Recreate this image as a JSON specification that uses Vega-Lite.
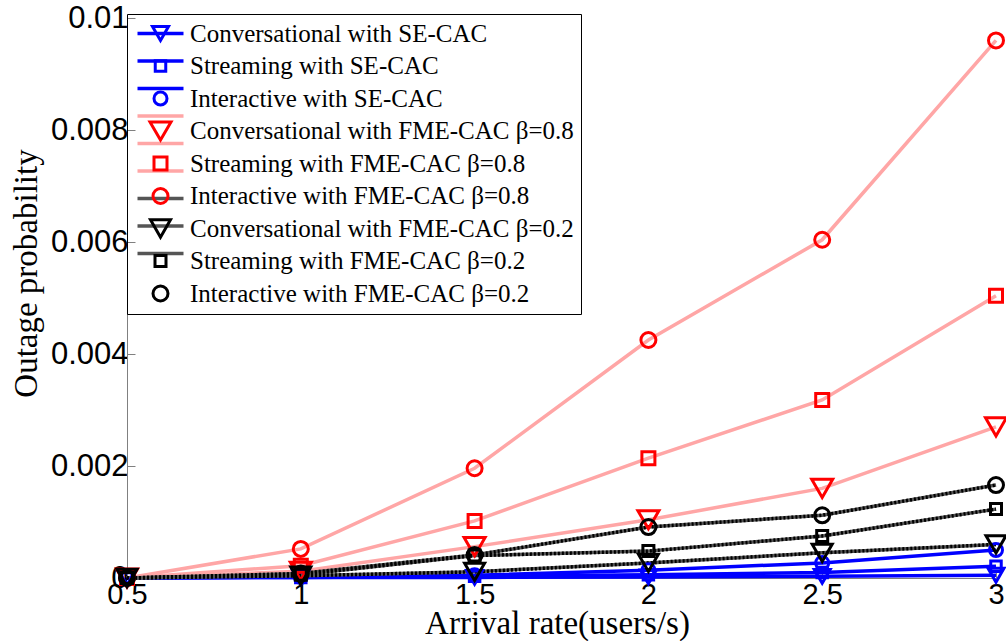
{
  "$schema": "https://vega.github.io/schema/vega-lite/v6.json",
  "width": 869,
  "height": 560,
  "autosize": {"type": "none"},
  "padding": {"left": 127, "top": 18, "right": 10, "bottom": 63},
  "background": "white",
  "config": {"view": {"stroke": null}},
  "data": {"values": [
    {"series": "Conversational with SE-CAC", "x": 0.5, "y": 0},
    {"series": "Conversational with SE-CAC", "x": 1, "y": 0.00001},
    {"series": "Conversational with SE-CAC", "x": 1.5, "y": 0.00001},
    {"series": "Conversational with SE-CAC", "x": 2, "y": 0.00002},
    {"series": "Conversational with SE-CAC", "x": 2.5, "y": 0.00003},
    {"series": "Conversational with SE-CAC", "x": 3, "y": 0.00005},
    {"series": "Streaming with SE-CAC", "x": 0.5, "y": 0},
    {"series": "Streaming with SE-CAC", "x": 1, "y": 0.00001},
    {"series": "Streaming with SE-CAC", "x": 1.5, "y": 0.00003},
    {"series": "Streaming with SE-CAC", "x": 2, "y": 0.00006},
    {"series": "Streaming with SE-CAC", "x": 2.5, "y": 0.0001},
    {"series": "Streaming with SE-CAC", "x": 3, "y": 0.00021},
    {"series": "Interactive with SE-CAC", "x": 0.5, "y": 0},
    {"series": "Interactive with SE-CAC", "x": 1, "y": 0.00002},
    {"series": "Interactive with SE-CAC", "x": 1.5, "y": 0.00005},
    {"series": "Interactive with SE-CAC", "x": 2, "y": 0.00014},
    {"series": "Interactive with SE-CAC", "x": 2.5, "y": 0.00027},
    {"series": "Interactive with SE-CAC", "x": 3, "y": 0.0005},
    {"series": "Conversational with FME-CAC β=0.8", "x": 0.5, "y": 0},
    {"series": "Conversational with FME-CAC β=0.8", "x": 1, "y": 0.00012},
    {"series": "Conversational with FME-CAC β=0.8", "x": 1.5, "y": 0.00056},
    {"series": "Conversational with FME-CAC β=0.8", "x": 2, "y": 0.00104},
    {"series": "Conversational with FME-CAC β=0.8", "x": 2.5, "y": 0.0016},
    {"series": "Conversational with FME-CAC β=0.8", "x": 3, "y": 0.0027},
    {"series": "Streaming with FME-CAC β=0.8", "x": 0.5, "y": 0},
    {"series": "Streaming with FME-CAC β=0.8", "x": 1, "y": 0.00022},
    {"series": "Streaming with FME-CAC β=0.8", "x": 1.5, "y": 0.00102},
    {"series": "Streaming with FME-CAC β=0.8", "x": 2, "y": 0.00214},
    {"series": "Streaming with FME-CAC β=0.8", "x": 2.5, "y": 0.00318},
    {"series": "Streaming with FME-CAC β=0.8", "x": 3, "y": 0.00504},
    {"series": "Interactive with FME-CAC β=0.8", "x": 0.5, "y": 0},
    {"series": "Interactive with FME-CAC β=0.8", "x": 1, "y": 0.00052},
    {"series": "Interactive with FME-CAC β=0.8", "x": 1.5, "y": 0.00196},
    {"series": "Interactive with FME-CAC β=0.8", "x": 2, "y": 0.00425},
    {"series": "Interactive with FME-CAC β=0.8", "x": 2.5, "y": 0.00604},
    {"series": "Interactive with FME-CAC β=0.8", "x": 3, "y": 0.0096},
    {"series": "Conversational with FME-CAC β=0.2", "x": 0.5, "y": 0},
    {"series": "Conversational with FME-CAC β=0.2", "x": 1, "y": 0.00004},
    {"series": "Conversational with FME-CAC β=0.2", "x": 1.5, "y": 0.00011},
    {"series": "Conversational with FME-CAC β=0.2", "x": 2, "y": 0.00027},
    {"series": "Conversational with FME-CAC β=0.2", "x": 2.5, "y": 0.00045},
    {"series": "Conversational with FME-CAC β=0.2", "x": 3, "y": 0.0006},
    {"series": "Streaming with FME-CAC β=0.2", "x": 0.5, "y": 0},
    {"series": "Streaming with FME-CAC β=0.2", "x": 1, "y": 0.00006},
    {"series": "Streaming with FME-CAC β=0.2", "x": 1.5, "y": 0.0004},
    {"series": "Streaming with FME-CAC β=0.2", "x": 2, "y": 0.00048},
    {"series": "Streaming with FME-CAC β=0.2", "x": 2.5, "y": 0.00075},
    {"series": "Streaming with FME-CAC β=0.2", "x": 3, "y": 0.00123},
    {"series": "Interactive with FME-CAC β=0.2", "x": 0.5, "y": 0},
    {"series": "Interactive with FME-CAC β=0.2", "x": 1, "y": 0.00008},
    {"series": "Interactive with FME-CAC β=0.2", "x": 1.5, "y": 0.00041},
    {"series": "Interactive with FME-CAC β=0.2", "x": 2, "y": 0.00091},
    {"series": "Interactive with FME-CAC β=0.2", "x": 2.5, "y": 0.00112},
    {"series": "Interactive with FME-CAC β=0.2", "x": 3, "y": 0.00166}
  ]},
  "encoding": {
    "x": {"field": "x", "type": "quantitative",
      "scale": {"domain": [0.5, 3], "nice": false, "zero": false},
      "axis": {"values": [0.5, 1, 1.5, 2, 2.5, 3], "format": "~g", "title": "Arrival rate(users/s)",
        "grid": false, "labelFont": "Liberation Sans", "labelFontSize": 29, "labelColor": "black",
        "labelPadding": 10, "tickSize": -8, "tickColor": "#808080", "domainColor": "#808080",
        "labelFlush": false, "labelOverlap": false,
        "titleFont": "Liberation Serif", "titleFontSize": 33, "titleFontWeight": "normal", "titleColor": "black",
        "titleX": 430, "titleY": 55, "titleBaseline": "alphabetic", "titleAlign": "center"}},
    "y": {"field": "y", "type": "quantitative",
      "scale": {"domain": [0, 0.01], "nice": false},
      "axis": {"values": [0, 0.002, 0.004, 0.006, 0.008, 0.01], "format": "~g", "title": "Outage probability",
        "grid": false, "labelFont": "Liberation Sans", "labelFontSize": 31, "labelColor": "black",
        "labelPadding": 7, "tickSize": -8, "tickColor": "#808080", "domainColor": "#808080",
        "labelFlush": false, "labelOverlap": false,
        "titleFont": "Liberation Serif", "titleFontSize": 33, "titleFontWeight": "normal", "titleColor": "black",
        "titleX": -101, "titleY": 255, "titleBaseline": "middle", "titleAlign": "center", "titleAngle": -90}}
  },
  "layer": [
    {
      "mark": {"type": "line", "strokeWidth": 3.5, "clip": false},
      "encoding": {
        "stroke": {"field": "series", "type": "nominal",
          "sort": ["Conversational with SE-CAC", "Streaming with SE-CAC", "Interactive with SE-CAC",
              "Conversational with FME-CAC β=0.8", "Streaming with FME-CAC β=0.8", "Interactive with FME-CAC β=0.8",
              "Conversational with FME-CAC β=0.2", "Streaming with FME-CAC β=0.2", "Interactive with FME-CAC β=0.2"],
          "scale": {
            "range": ["#0000ff", "#0000ff", "#0000ff", "#ffa6a6", "#ffa6a6", "#ffa6a6", "#555555", "#555555", "#555555"]},
          "legend": {"orient": "none", "legendX": 0, "legendY": -4, "padding": 7, "title": null,
            "symbolType": "M-2.3,0H2.3", "symbolSize": 400, "symbolStrokeWidth": 3.5, "symbolFillColor": "transparent",
            "symbolOffset": 14, "gridAlign": "all", "labelExpr": "''",
            "labelFont": "Liberation Serif", "labelFontSize": 25, "labelLimit": 0, "labelColor": "transparent",
            "rowPadding": 1.5, "labelOffset": 17}}
      }
    },
    {
      "transform": [{"filter": "indexof(datum.series, '0.2') >= 0"}],
      "mark": {"type": "line", "stroke": "black", "strokeWidth": 3.5, "strokeDash": [2, 2], "clip": false},
      "encoding": {"detail": {"field": "series", "type": "nominal"}}
    },
    {
      "mark": {"type": "point", "filled": false, "strokeWidth": 3, "opacity": 1, "clip": false},
      "encoding": {
        "color": {"field": "series", "type": "nominal",
          "scale": {
            "domain": ["Conversational with SE-CAC", "Streaming with SE-CAC", "Interactive with SE-CAC",
              "Conversational with FME-CAC β=0.8", "Streaming with FME-CAC β=0.8", "Interactive with FME-CAC β=0.8",
              "Conversational with FME-CAC β=0.2", "Streaming with FME-CAC β=0.2", "Interactive with FME-CAC β=0.2"],
            "range": ["#0000ff", "#0000ff", "#0000ff", "#ff0000", "#ff0000", "#ff0000", "#000000", "#000000", "#000000"]},
          "legend": {"orient": "none", "legendX": 0, "legendY": -4, "padding": 7, "title": null,
            "strokeColor": "black", "symbolStrokeWidth": 3,
            "symbolOffset": 14, "gridAlign": "all",
            "labelFont": "Liberation Serif", "labelFontSize": 25, "labelLimit": 0, "labelColor": "black",
            "rowPadding": 1.5, "labelOffset": 17}},
        "shape": {"field": "series", "type": "nominal",
          "scale": {
            "domain": ["Conversational with SE-CAC", "Streaming with SE-CAC", "Interactive with SE-CAC",
              "Conversational with FME-CAC β=0.8", "Streaming with FME-CAC β=0.8", "Interactive with FME-CAC β=0.8",
              "Conversational with FME-CAC β=0.2", "Streaming with FME-CAC β=0.2", "Interactive with FME-CAC β=0.2"],
            "range": ["triangle-down", "square", "circle", "triangle-down", "square", "circle", "triangle-down", "square", "circle"]}},
        "size": {"field": "series", "type": "nominal",
          "scale": {"type": "ordinal",
            "domain": ["Conversational with SE-CAC", "Streaming with SE-CAC", "Interactive with SE-CAC",
              "Conversational with FME-CAC β=0.8", "Streaming with FME-CAC β=0.8", "Interactive with FME-CAC β=0.8",
              "Conversational with FME-CAC β=0.2", "Streaming with FME-CAC β=0.2", "Interactive with FME-CAC β=0.2"],
            "range": [256, 110, 169, 441, 169, 225, 400, 121, 225]}}
      }
    }
  ]
}
